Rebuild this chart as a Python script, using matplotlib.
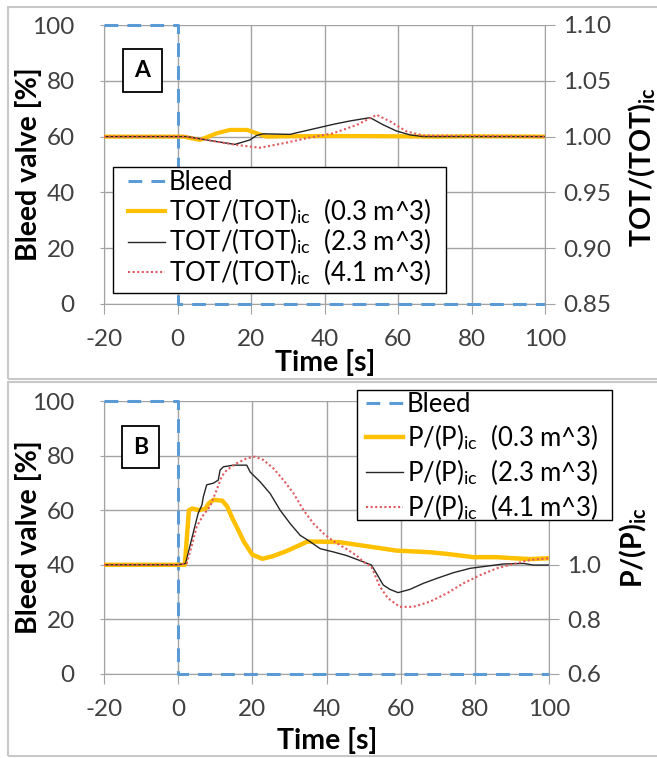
import matplotlib
matplotlib.use("Agg")
import matplotlib.pyplot as plt
from matplotlib.patches import Rectangle

W, H = 657, 758

plt.rcParams["font.family"] = ["Lato", "DejaVu Sans"]
plt.rcParams["mathtext.fontset"] = "custom"
plt.rcParams["mathtext.rm"] = "Lato"
plt.rcParams["mathtext.bf"] = "Lato:bold"
plt.rcParams["mathtext.it"] = "Lato:italic"
plt.rcParams["axes.unicode_minus"] = False

# ---- data ----
time_bleed = [-20, 0, 0, 100]
bleed_pct = [100, 100, 0, 0]

# Panel A: TOT/(TOT)ic
tA_03 = [-20, 0, 1.6, 6.1, 10.7, 14.3, 18.9, 21.5, 24.2, 30, 40, 50, 60, 70, 80, 90, 100]
tot_03 = [1.000, 1.000, 1.000, 0.997, 1.003, 1.006, 1.006, 1.003, 1.000, 1.0003,
          1.0005, 1.0005, 1.0003, 1.000, 1.0003, 1.0002, 1.000]
tA_23 = [-20, 0, 2.5, 6.1, 10.7, 15.6, 19.7, 21.5, 23.3, 30.6, 37.8, 42.4, 46.9,
         52.4, 56, 59.6, 63.3, 66.9, 100]
tot_23 = [1.000, 1.000, 1.000, 0.998, 0.9955, 0.993, 0.997, 1.001, 1.0025, 1.002,
          1.0075, 1.011, 1.014, 1.017, 1.0105, 1.005, 1.0015, 1.000, 1.000]
tA_41 = [-20, 0, 2.5, 10.7, 16.1, 22.4, 28.8, 35.1, 42.4, 48.8, 54.2, 57.9, 62.4, 66.9, 100]
tot_41 = [1.000, 1.000, 1.000, 0.9955, 0.9925, 0.990, 0.994, 0.9985, 1.003, 1.0105,
          1.0195, 1.0135, 1.0045, 1.001, 1.000]

# Panel B: P/(P)ic
tB_03 = [-20, -10, 0, 1.8, 2.9, 3.8, 5.6, 7.4, 8.3, 9.6, 11.9, 13.2, 14.6, 16.4, 17.7,
         20, 22.7, 25.4, 29, 32.6, 34.8, 38, 43.4, 49.9, 58.9, 67.9, 72.4, 79.6, 85.9,
         90.4, 94.9, 100]
p_03 = [1.000, 1.000, 1.000, 1.000, 1.200, 1.206, 1.200, 1.206, 1.226, 1.238, 1.235,
        1.214, 1.171, 1.122, 1.085, 1.037, 1.022, 1.031, 1.049, 1.071, 1.085, 1.085,
        1.083, 1.070, 1.052, 1.046, 1.040, 1.028, 1.028, 1.024, 1.021, 1.024]
tB_23 = [-20, 0, 2, 2.7, 3.8, 5.4, 6.4, 6.8, 7.7, 9.5, 10.8, 11.3, 12.2, 14.9, 18.5,
         19.4, 22.1, 24.8, 27.5, 30.2, 32.9, 35.1, 38.3, 41.9, 45.4, 49.9, 52.1, 53.5,
         55.3, 57.1, 59.3, 62.5, 66.1, 69.7, 74.2, 78.7, 83.2, 87.7, 93.1, 95.8, 100]
p_23 = [1.000, 1.000, 1.005, 1.043, 1.103, 1.189, 1.219, 1.250, 1.293, 1.299, 1.310,
        1.347, 1.359, 1.365, 1.365, 1.340, 1.304, 1.261, 1.200, 1.151, 1.108, 1.089,
        1.059, 1.047, 1.034, 1.011, 0.999, 0.968, 0.926, 0.910, 0.898, 0.910, 0.932,
        0.950, 0.971, 0.987, 0.995, 1.003, 1.005, 0.999, 0.999]
tB_41 = [-20, 0, 2.3, 3.6, 5, 6.8, 8.6, 10.4, 11.7, 13.1, 15.8, 18.5, 20.7, 23, 25.7,
         28.4, 31.1, 33.8, 36.5, 39.2, 41.9, 45.4, 48.1, 49.9, 52.1, 54.4, 56.6, 59.8,
         63.4, 67.9, 72.4, 76.9, 81.4, 85.9, 90.4, 94.9, 100]
p_41 = [1.000, 1.000, 1.005, 1.067, 1.140, 1.183, 1.214, 1.275, 1.323, 1.347, 1.372,
        1.390, 1.396, 1.384, 1.353, 1.310, 1.262, 1.200, 1.151, 1.115, 1.086, 1.058,
        1.034, 1.011, 0.993, 0.920, 0.877, 0.846, 0.846, 0.865, 0.895, 0.932, 0.962,
        0.987, 1.003, 1.018, 1.024]

x_ticks = [-20, 0, 20, 40, 60, 80, 100]
left_ticks = [0, 20, 40, 60, 80, 100]
right_ticks_A = [0.85, 0.90, 0.95, 1.00, 1.05, 1.10]
right_labels_A = ["0.85", "0.90", "0.95", "1.00", "1.05", "1.10"]
right_ticks_B = [0.6, 0.8, 1.0, 1.2, 1.4, 1.6]
right_labels_B = ["0.6", "0.8", "1.0", "", "", ""]  # upper ones sit under the legend

# ---- styles ----
C_BLEED = "#5B9BD5"
C_03 = "#FFC000"
C_23 = "#262626"
C_41 = "#E05A5E"
C_GRID = "#A3A3A3"
C_TICK = "#404040"
FS_TICK = 17.5
FS_LEG = 18.5
FS_LAB = 20.5

fig = plt.figure(figsize=(W / 100, H / 100), dpi=100)


def fbox(x0, y0, x1, y1):
    return [x0 / W, 1 - y1 / H, (x1 - x0) / W, (y1 - y0) / H]


def fpt(x, y):
    return (x / W, 1 - y / H)


def frect(x0, y0, x1, y1, **kw):
    return Rectangle((x0 / W, 1 - y1 / H), (x1 - x0) / W, (y1 - y0) / H,
                     transform=fig.transFigure, **kw)


# panel frames
for box in [(8, 7, 660, 379), (8, 382, 660, 756)]:
    fig.add_artist(frect(*box, fill=False, edgecolor="#C8C8C8", lw=1.5))


def setup(ax, ax2, rticks, rlabels, rlim):
    ax.set_xlim(-20, 100)
    ax.set_ylim(0, 100)
    ax.set_xticks(x_ticks)
    ax.set_yticks(left_ticks)
    ax.grid(True, color=C_GRID, lw=1.0)
    ax.set_axisbelow(True)
    ax.spines["top"].set_visible(False)
    for s in ["top", "left", "bottom"]:
        ax2.spines[s].set_visible(False)
    for s in ["left", "bottom"]:
        ax.spines[s].set_color(C_GRID)
    ax.spines["right"].set_visible(False)
    ax2.spines["right"].set_color(C_GRID)
    ax.tick_params(axis="x", direction="out", length=7, color=C_GRID,
                   labelsize=FS_TICK, labelcolor=C_TICK, pad=11)
    ax.tick_params(axis="y", direction="out", length=3, color=C_GRID,
                   labelsize=FS_TICK, labelcolor=C_TICK, pad=18)
    ax2.set_ylim(*rlim)
    ax2.set_yticks(rticks, rlabels)
    ax2.tick_params(axis="y", direction="out", length=7, color=C_GRID,
                    labelsize=FS_TICK, labelcolor=C_TICK, pad=6)


def panel_tag(letter, x0, y0, x1, y1):
    fig.add_artist(frect(x0, y0, x1, y1, facecolor="white", edgecolor="black",
                         lw=1.3, zorder=10))
    fig.text((x0 + x1) / 2 / W, 1 - (y0 + y1) / 2 / H, letter, ha="center",
             va="center", fontsize=16.5, fontweight="bold", zorder=11)


def make_legend(ax2, handles, frame, x, y, lspace):
    ax2.add_artist(frect(*frame, facecolor="white", edgecolor="black", lw=1.0,
                         zorder=4.9, clip_on=False))
    leg = ax2.legend(handles=handles, loc="upper left",
                     bbox_to_anchor=fpt(x, y), bbox_transform=fig.transFigure,
                     fontsize=FS_LEG, frameon=False, borderpad=0,
                     labelspacing=lspace, handlelength=1.45, handletextpad=0.15,
                     borderaxespad=0)
    return leg


# ---- panel A ----
axA = fig.add_axes(fbox(104, 25, 545, 304))
axA2 = axA.twinx()
setup(axA, axA2, right_ticks_A, right_labels_A, (0.85, 1.10))
hb, = axA.plot(time_bleed, bleed_pct, color=C_BLEED, lw=2.2, dashes=(4.5, 3),
               label="Bleed", clip_on=False, zorder=3)
h1, = axA2.plot(tA_03, tot_03, color=C_03, lw=3.0,
                label=r"TOT/(TOT)$_{\mathrm{ic}}$  (0.3 m^3)")
h2, = axA2.plot(tA_23, tot_23, color=C_23, lw=1.0,
                label=r"TOT/(TOT)$_{\mathrm{ic}}$  (2.3 m^3)")
h3, = axA2.plot(tA_41, tot_41, color=C_41, lw=1.5, linestyle=(0, (1, 1.2)),
                label=r"TOT/(TOT)$_{\mathrm{ic}}$  (4.1 m^3)")
make_legend(axA2, [hb, h1, h2, h3], (113, 167, 446, 293), 128, 170, 0.03)

fig.text(29 / W, 1 - 164 / H, "Bleed valve [%]", rotation=90, ha="center",
         va="center", fontsize=FS_LAB, fontweight="bold")
fig.text(642 / W, 1 - 167 / H, r"TOT/(TOT)$_{\mathbf{ic}}$", rotation=90,
         ha="center", va="center", fontsize=FS_LAB, fontweight="bold")
fig.text(325 / W, 1 - 363 / H, "Time [s]", ha="center", va="center",
         fontsize=FS_LAB, fontweight="bold")
panel_tag("A", 123, 49, 162, 92)

# ---- panel B ----
axB = fig.add_axes(fbox(104, 401, 549, 674))
axB2 = axB.twinx()
setup(axB, axB2, right_ticks_B, right_labels_B, (0.6, 1.6))
gb, = axB.plot(time_bleed, bleed_pct, color=C_BLEED, lw=2.2, dashes=(4.5, 3),
               label="Bleed", clip_on=False, zorder=3)
g1, = axB2.plot(tB_03, p_03, color=C_03, lw=3.2,
                label=r"P/(P)$_{\mathrm{ic}}$  (0.3 m^3)")
g2, = axB2.plot(tB_23, p_23, color=C_23, lw=1.0,
                label=r"P/(P)$_{\mathrm{ic}}$  (2.3 m^3)")
g3, = axB2.plot(tB_41, p_41, color=C_41, lw=1.5, linestyle=(0, (1, 1.2)),
                label=r"P/(P)$_{\mathrm{ic}}$  (4.1 m^3)")
make_legend(axB2, [gb, g1, g2, g3], (357, 390, 612, 520), 366, 392, 0.19)

fig.text(29 / W, 1 - 537 / H, "Bleed valve [%]", rotation=90, ha="center",
         va="center", fontsize=FS_LAB, fontweight="bold")
fig.text(633 / W, 1 - 548 / H, r"P/(P)$_{\mathbf{ic}}$", rotation=90,
         ha="center", va="center", fontsize=FS_LAB, fontweight="bold")
fig.text(327 / W, 1 - 740 / H, "Time [s]", ha="center", va="center",
         fontsize=FS_LAB, fontweight="bold")
panel_tag("B", 122, 426, 159, 468)

fig.savefig("out.png", dpi=100)
